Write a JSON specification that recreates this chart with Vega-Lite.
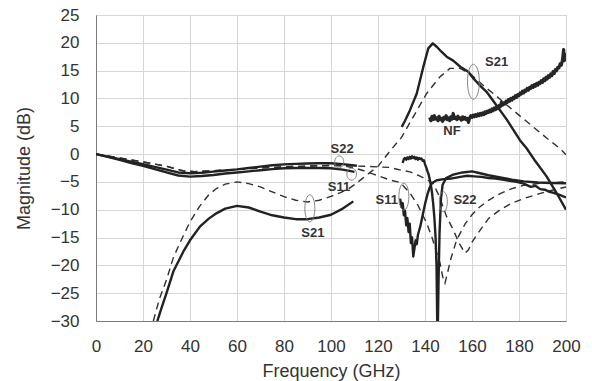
{
  "$schema": "https://vega.github.io/schema/vega-lite/v6.json",
  "width": 470,
  "height": 306,
  "autosize": {"type": "none"},
  "padding": {"left": 96, "top": 15, "right": 26, "bottom": 60},
  "background": "white",
  "config": {
    "view": {"stroke": "#8a8a8a", "strokeWidth": 1},
    "font": "Liberation Sans",
    "axis": {
      "labelFont": "Liberation Sans", "titleFont": "Liberation Sans",
      "labelFontSize": 17, "titleFontSize": 18, "labelColor": "#333", "titleColor": "#333",
      "titleFontWeight": "normal", "gridColor": "#d6d6d6", "gridWidth": 1,
      "domainColor": "#7a7a7a", "ticks": false, "labelOverlap": false, "labelFlush": false
    }
  },
  "datasets": {
    "curves": [
      {"s": "S22m_lo", "f": 0, "m": 0}, {"s": "S22m_lo", "f": 5, "m": -0.45}, {"s": "S22m_lo", "f": 10, "m": -0.9}, {"s": "S22m_lo", "f": 15, "m": -1.35}, {"s": "S22m_lo", "f": 20, "m": -1.8}, {"s": "S22m_lo", "f": 25, "m": -2.3}, {"s": "S22m_lo", "f": 30, "m": -2.8}, {"s": "S22m_lo", "f": 35, "m": -3.3}, {"s": "S22m_lo", "f": 40, "m": -3.45}, {"s": "S22m_lo", "f": 45, "m": -3.35}, {"s": "S22m_lo", "f": 50, "m": -3.15}, {"s": "S22m_lo", "f": 55, "m": -2.95}, {"s": "S22m_lo", "f": 60, "m": -2.75}, {"s": "S22m_lo", "f": 65, "m": -2.5}, {"s": "S22m_lo", "f": 70, "m": -2.25}, {"s": "S22m_lo", "f": 75, "m": -2.0}, {"s": "S22m_lo", "f": 80, "m": -1.85}, {"s": "S22m_lo", "f": 85, "m": -1.75}, {"s": "S22m_lo", "f": 90, "m": -1.7}, {"s": "S22m_lo", "f": 95, "m": -1.65}, {"s": "S22m_lo", "f": 100, "m": -1.65}, {"s": "S22m_lo", "f": 105, "m": -1.8}, {"s": "S22m_lo", "f": 111, "m": -2.1},
      {"s": "S11m_lo", "f": 0, "m": 0}, {"s": "S11m_lo", "f": 5, "m": -0.5}, {"s": "S11m_lo", "f": 10, "m": -1.05}, {"s": "S11m_lo", "f": 15, "m": -1.6}, {"s": "S11m_lo", "f": 20, "m": -2.1}, {"s": "S11m_lo", "f": 25, "m": -2.7}, {"s": "S11m_lo", "f": 30, "m": -3.3}, {"s": "S11m_lo", "f": 35, "m": -3.85}, {"s": "S11m_lo", "f": 40, "m": -4.05}, {"s": "S11m_lo", "f": 45, "m": -3.95}, {"s": "S11m_lo", "f": 50, "m": -3.75}, {"s": "S11m_lo", "f": 55, "m": -3.5}, {"s": "S11m_lo", "f": 60, "m": -3.3}, {"s": "S11m_lo", "f": 65, "m": -3.1}, {"s": "S11m_lo", "f": 70, "m": -2.9}, {"s": "S11m_lo", "f": 75, "m": -2.7}, {"s": "S11m_lo", "f": 80, "m": -2.55}, {"s": "S11m_lo", "f": 85, "m": -2.5}, {"s": "S11m_lo", "f": 90, "m": -2.5}, {"s": "S11m_lo", "f": 95, "m": -2.5}, {"s": "S11m_lo", "f": 100, "m": -2.55}, {"s": "S11m_lo", "f": 105, "m": -2.8}, {"s": "S11m_lo", "f": 110, "m": -3.2},
      {"s": "S21m_lo", "f": 26.1, "m": -30}, {"s": "S21m_lo", "f": 28, "m": -27.5}, {"s": "S21m_lo", "f": 30, "m": -25}, {"s": "S21m_lo", "f": 33, "m": -21}, {"s": "S21m_lo", "f": 37.2, "m": -17.5}, {"s": "S21m_lo", "f": 40, "m": -15.5}, {"s": "S21m_lo", "f": 44.3, "m": -13}, {"s": "S21m_lo", "f": 48, "m": -11.6}, {"s": "S21m_lo", "f": 51.4, "m": -10.6}, {"s": "S21m_lo", "f": 55, "m": -9.8}, {"s": "S21m_lo", "f": 60, "m": -9.3}, {"s": "S21m_lo", "f": 65, "m": -9.6}, {"s": "S21m_lo", "f": 70, "m": -10.35}, {"s": "S21m_lo", "f": 75, "m": -11}, {"s": "S21m_lo", "f": 80, "m": -11.4}, {"s": "S21m_lo", "f": 85, "m": -11.7}, {"s": "S21m_lo", "f": 90, "m": -11.7}, {"s": "S21m_lo", "f": 95, "m": -11.4}, {"s": "S21m_lo", "f": 100, "m": -10.9}, {"s": "S21m_lo", "f": 105, "m": -9.8}, {"s": "S21m_lo", "f": 109.5, "m": -8.5},
      {"s": "S21m_hi", "f": 130.1, "m": 4.9}, {"s": "S21m_hi", "f": 131.5, "m": 6.0}, {"s": "S21m_hi", "f": 133.6, "m": 7.9}, {"s": "S21m_hi", "f": 136.5, "m": 10.9}, {"s": "S21m_hi", "f": 139.3, "m": 15.7}, {"s": "S21m_hi", "f": 141.4, "m": 19}, {"s": "S21m_hi", "f": 143.3, "m": 19.9}, {"s": "S21m_hi", "f": 145, "m": 19.3}, {"s": "S21m_hi", "f": 147, "m": 18.4}, {"s": "S21m_hi", "f": 149.2, "m": 17.5}, {"s": "S21m_hi", "f": 152, "m": 16.8}, {"s": "S21m_hi", "f": 155, "m": 15.7}, {"s": "S21m_hi", "f": 158.4, "m": 14.8}, {"s": "S21m_hi", "f": 160.6, "m": 13.6}, {"s": "S21m_hi", "f": 163, "m": 12.5}, {"s": "S21m_hi", "f": 166.2, "m": 11.2}, {"s": "S21m_hi", "f": 170, "m": 9.0}, {"s": "S21m_hi", "f": 174.8, "m": 6.2}, {"s": "S21m_hi", "f": 180.4, "m": 2.5}, {"s": "S21m_hi", "f": 183.3, "m": 1.0}, {"s": "S21m_hi", "f": 187, "m": -1.3}, {"s": "S21m_hi", "f": 191.8, "m": -4.05}, {"s": "S21m_hi", "f": 196, "m": -7}, {"s": "S21m_hi", "f": 200, "m": -10},
      {"s": "S11m_hi", "f": 129.4, "m": -8}, {"s": "S11m_hi", "f": 130, "m": -9.5}, {"s": "S11m_hi", "f": 130.5, "m": -8.8}, {"s": "S11m_hi", "f": 131, "m": -11}, {"s": "S11m_hi", "f": 131.5, "m": -10.2}, {"s": "S11m_hi", "f": 132, "m": -12.8}, {"s": "S11m_hi", "f": 132.5, "m": -11.5}, {"s": "S11m_hi", "f": 133, "m": -14}, {"s": "S11m_hi", "f": 133.5, "m": -12.5}, {"s": "S11m_hi", "f": 134, "m": -16}, {"s": "S11m_hi", "f": 134.5, "m": -15}, {"s": "S11m_hi", "f": 135, "m": -18.4}, {"s": "S11m_hi", "f": 135.5, "m": -17}, {"s": "S11m_hi", "f": 136, "m": -15.5}, {"s": "S11m_hi", "f": 136.5, "m": -16.2}, {"s": "S11m_hi", "f": 137, "m": -14.5}, {"s": "S11m_hi", "f": 138, "m": -13}, {"s": "S11m_hi", "f": 139, "m": -11}, {"s": "S11m_hi", "f": 140, "m": -9}, {"s": "S11m_hi", "f": 141, "m": -7.3}, {"s": "S11m_hi", "f": 142, "m": -6}, {"s": "S11m_hi", "f": 143, "m": -5.2}, {"s": "S11m_hi", "f": 145, "m": -4.7}, {"s": "S11m_hi", "f": 148, "m": -4.5}, {"s": "S11m_hi", "f": 151, "m": -4.4}, {"s": "S11m_hi", "f": 155, "m": -4.1}, {"s": "S11m_hi", "f": 158, "m": -3.9}, {"s": "S11m_hi", "f": 161, "m": -4.0}, {"s": "S11m_hi", "f": 164, "m": -4.1}, {"s": "S11m_hi", "f": 167, "m": -4.3}, {"s": "S11m_hi", "f": 170, "m": -4.4}, {"s": "S11m_hi", "f": 173, "m": -4.6}, {"s": "S11m_hi", "f": 176, "m": -4.8}, {"s": "S11m_hi", "f": 179, "m": -5.0}, {"s": "S11m_hi", "f": 182, "m": -5.3}, {"s": "S11m_hi", "f": 185, "m": -5.9}, {"s": "S11m_hi", "f": 187, "m": -5.7}, {"s": "S11m_hi", "f": 189, "m": -6.3}, {"s": "S11m_hi", "f": 191, "m": -6.4}, {"s": "S11m_hi", "f": 193, "m": -6.8}, {"s": "S11m_hi", "f": 195, "m": -7.0}, {"s": "S11m_hi", "f": 197, "m": -7.3}, {"s": "S11m_hi", "f": 200, "m": -7.8},
      {"s": "S22m_hi", "f": 130.5, "m": -1.6}, {"s": "S22m_hi", "f": 131, "m": -0.9}, {"s": "S22m_hi", "f": 131.5, "m": -0.7}, {"s": "S22m_hi", "f": 132, "m": -1.0}, {"s": "S22m_hi", "f": 132.5, "m": -0.6}, {"s": "S22m_hi", "f": 133, "m": -0.9}, {"s": "S22m_hi", "f": 133.5, "m": -0.5}, {"s": "S22m_hi", "f": 134, "m": -0.8}, {"s": "S22m_hi", "f": 134.5, "m": -0.4}, {"s": "S22m_hi", "f": 135, "m": -0.7}, {"s": "S22m_hi", "f": 135.5, "m": -0.5}, {"s": "S22m_hi", "f": 136, "m": -0.9}, {"s": "S22m_hi", "f": 136.5, "m": -0.6}, {"s": "S22m_hi", "f": 137, "m": -1.0}, {"s": "S22m_hi", "f": 137.5, "m": -0.7}, {"s": "S22m_hi", "f": 138, "m": -0.9}, {"s": "S22m_hi", "f": 138.5, "m": -0.8}, {"s": "S22m_hi", "f": 139, "m": -1.2}, {"s": "S22m_hi", "f": 139.5, "m": -1.1}, {"s": "S22m_hi", "f": 140, "m": -1.8}, {"s": "S22m_hi", "f": 140.5, "m": -2.4}, {"s": "S22m_hi", "f": 141, "m": -3.0}, {"s": "S22m_hi", "f": 141.5, "m": -3.6}, {"s": "S22m_hi", "f": 142, "m": -4.5}, {"s": "S22m_hi", "f": 142.5, "m": -5.6}, {"s": "S22m_hi", "f": 143, "m": -7}, {"s": "S22m_hi", "f": 143.5, "m": -9}, {"s": "S22m_hi", "f": 144, "m": -11.5}, {"s": "S22m_hi", "f": 144.5, "m": -15}, {"s": "S22m_hi", "f": 144.9, "m": -20}, {"s": "S22m_hi", "f": 145.2, "m": -30}, {"s": "S22m_hi", "f": 145.5, "m": -30}, {"s": "S22m_hi", "f": 145.8, "m": -22}, {"s": "S22m_hi", "f": 146.2, "m": -14}, {"s": "S22m_hi", "f": 146.8, "m": -8}, {"s": "S22m_hi", "f": 147.5, "m": -5.5}, {"s": "S22m_hi", "f": 149, "m": -4.3}, {"s": "S22m_hi", "f": 152, "m": -3.7}, {"s": "S22m_hi", "f": 156, "m": -3.3}, {"s": "S22m_hi", "f": 160, "m": -3.1}, {"s": "S22m_hi", "f": 163, "m": -3.4}, {"s": "S22m_hi", "f": 167, "m": -3.8}, {"s": "S22m_hi", "f": 172, "m": -4.2}, {"s": "S22m_hi", "f": 177, "m": -4.6}, {"s": "S22m_hi", "f": 182, "m": -4.9}, {"s": "S22m_hi", "f": 188, "m": -5.1}, {"s": "S22m_hi", "f": 194, "m": -5.2}, {"s": "S22m_hi", "f": 200, "m": -5.25},
      {"s": "S21s", "f": 24.4, "m": -30}, {"s": "S21s", "f": 27, "m": -26}, {"s": "S21s", "f": 30, "m": -22.6}, {"s": "S21s", "f": 33, "m": -18.5}, {"s": "S21s", "f": 37, "m": -14.8}, {"s": "S21s", "f": 40, "m": -12.2}, {"s": "S21s", "f": 44, "m": -9.45}, {"s": "S21s", "f": 48, "m": -7.3}, {"s": "S21s", "f": 51.4, "m": -6.15}, {"s": "S21s", "f": 55, "m": -5.4}, {"s": "S21s", "f": 60, "m": -5}, {"s": "S21s", "f": 65, "m": -5.3}, {"s": "S21s", "f": 70, "m": -5.9}, {"s": "S21s", "f": 75, "m": -6.8}, {"s": "S21s", "f": 80, "m": -7.65}, {"s": "S21s", "f": 85, "m": -8.3}, {"s": "S21s", "f": 90, "m": -8.6}, {"s": "S21s", "f": 95, "m": -8.3}, {"s": "S21s", "f": 100, "m": -7.6}, {"s": "S21s", "f": 103, "m": -7.1}, {"s": "S21s", "f": 106.7, "m": -6.45}, {"s": "S21s", "f": 110, "m": -5.5}, {"s": "S21s", "f": 113, "m": -4.5}, {"s": "S21s", "f": 116, "m": -3.5}, {"s": "S21s", "f": 120, "m": -2.2}, {"s": "S21s", "f": 125, "m": 0.5}, {"s": "S21s", "f": 130, "m": 3.0}, {"s": "S21s", "f": 135, "m": 6.7}, {"s": "S21s", "f": 140.7, "m": 10.9}, {"s": "S21s", "f": 146.4, "m": 13.9}, {"s": "S21s", "f": 150.6, "m": 15.4}, {"s": "S21s", "f": 154.9, "m": 15.4}, {"s": "S21s", "f": 159.1, "m": 14.5}, {"s": "S21s", "f": 162, "m": 13.4}, {"s": "S21s", "f": 166, "m": 11.9}, {"s": "S21s", "f": 170.5, "m": 10.4}, {"s": "S21s", "f": 174, "m": 9.1}, {"s": "S21s", "f": 180, "m": 7.0}, {"s": "S21s", "f": 186, "m": 4.9}, {"s": "S21s", "f": 192, "m": 2.8}, {"s": "S21s", "f": 197.4, "m": 1.0}, {"s": "S21s", "f": 200, "m": -0.1},
      {"s": "S11s", "f": 0, "m": 0}, {"s": "S11s", "f": 10, "m": -0.7}, {"s": "S11s", "f": 20, "m": -1.4}, {"s": "S11s", "f": 30, "m": -2.2}, {"s": "S11s", "f": 37, "m": -3.0}, {"s": "S11s", "f": 42, "m": -3.15}, {"s": "S11s", "f": 50, "m": -3.0}, {"s": "S11s", "f": 60, "m": -2.75}, {"s": "S11s", "f": 70, "m": -2.5}, {"s": "S11s", "f": 80, "m": -2.3}, {"s": "S11s", "f": 90, "m": -2.15}, {"s": "S11s", "f": 100, "m": -2.05}, {"s": "S11s", "f": 105, "m": -2.1}, {"s": "S11s", "f": 110, "m": -2.5}, {"s": "S11s", "f": 114, "m": -3.0}, {"s": "S11s", "f": 118, "m": -3.6}, {"s": "S11s", "f": 122, "m": -4.2}, {"s": "S11s", "f": 125, "m": -4.65}, {"s": "S11s", "f": 129.4, "m": -5.1}, {"s": "S11s", "f": 133.6, "m": -7}, {"s": "S11s", "f": 137, "m": -9.2}, {"s": "S11s", "f": 140.7, "m": -12.4}, {"s": "S11s", "f": 143, "m": -15}, {"s": "S11s", "f": 145, "m": -17.8}, {"s": "S11s", "f": 146.4, "m": -19.6}, {"s": "S11s", "f": 147.5, "m": -22}, {"s": "S11s", "f": 148.5, "m": -23.2}, {"s": "S11s", "f": 149.5, "m": -21.5}, {"s": "S11s", "f": 151, "m": -18.8}, {"s": "S11s", "f": 153.5, "m": -15.4}, {"s": "S11s", "f": 157, "m": -12.6}, {"s": "S11s", "f": 160, "m": -10.9}, {"s": "S11s", "f": 163, "m": -9.6}, {"s": "S11s", "f": 167, "m": -8.3}, {"s": "S11s", "f": 172, "m": -7.1}, {"s": "S11s", "f": 177, "m": -6.2}, {"s": "S11s", "f": 182, "m": -5.6}, {"s": "S11s", "f": 190, "m": -5.2}, {"s": "S11s", "f": 200, "m": -5.0},
      {"s": "S22s", "f": 0, "m": 0}, {"s": "S22s", "f": 10, "m": -0.7}, {"s": "S22s", "f": 20, "m": -1.4}, {"s": "S22s", "f": 30, "m": -2.2}, {"s": "S22s", "f": 37, "m": -3.0}, {"s": "S22s", "f": 42, "m": -3.15}, {"s": "S22s", "f": 50, "m": -3.0}, {"s": "S22s", "f": 60, "m": -2.75}, {"s": "S22s", "f": 70, "m": -2.5}, {"s": "S22s", "f": 80, "m": -2.3}, {"s": "S22s", "f": 90, "m": -2.15}, {"s": "S22s", "f": 100, "m": -2.05}, {"s": "S22s", "f": 105, "m": -2.05}, {"s": "S22s", "f": 110, "m": -2.15}, {"s": "S22s", "f": 115, "m": -2.2}, {"s": "S22s", "f": 120, "m": -2.3}, {"s": "S22s", "f": 125, "m": -2.4}, {"s": "S22s", "f": 130, "m": -2.9}, {"s": "S22s", "f": 133.6, "m": -3.2}, {"s": "S22s", "f": 137, "m": -3.8}, {"s": "S22s", "f": 140, "m": -4.4}, {"s": "S22s", "f": 143.5, "m": -5.3}, {"s": "S22s", "f": 146, "m": -7.5}, {"s": "S22s", "f": 149.2, "m": -11.25}, {"s": "S22s", "f": 152, "m": -13.6}, {"s": "S22s", "f": 154.5, "m": -16}, {"s": "S22s", "f": 157, "m": -17.8}, {"s": "S22s", "f": 158.5, "m": -17.2}, {"s": "S22s", "f": 160, "m": -15.8}, {"s": "S22s", "f": 163.4, "m": -13.7}, {"s": "S22s", "f": 167, "m": -11.6}, {"s": "S22s", "f": 172, "m": -10}, {"s": "S22s", "f": 177, "m": -8.8}, {"s": "S22s", "f": 182, "m": -8}, {"s": "S22s", "f": 188, "m": -7.2}, {"s": "S22s", "f": 194, "m": -6.5}, {"s": "S22s", "f": 200, "m": -5.9},
      {"s": "NF", "f": 142, "m": 6.6}, {"s": "NF", "f": 142.5, "m": 6.0}, {"s": "NF", "f": 143, "m": 6.8}, {"s": "NF", "f": 143.5, "m": 6.2}, {"s": "NF", "f": 144, "m": 6.9}, {"s": "NF", "f": 144.5, "m": 6.3}, {"s": "NF", "f": 145, "m": 6.5}, {"s": "NF", "f": 145.5, "m": 6.0}, {"s": "NF", "f": 146, "m": 6.8}, {"s": "NF", "f": 146.5, "m": 6.2}, {"s": "NF", "f": 147, "m": 6.4}, {"s": "NF", "f": 147.5, "m": 5.9}, {"s": "NF", "f": 148, "m": 6.6}, {"s": "NF", "f": 148.5, "m": 6.3}, {"s": "NF", "f": 149, "m": 6.9}, {"s": "NF", "f": 149.5, "m": 6.2}, {"s": "NF", "f": 150, "m": 6.5}, {"s": "NF", "f": 150.5, "m": 6.0}, {"s": "NF", "f": 151, "m": 6.7}, {"s": "NF", "f": 151.5, "m": 6.3}, {"s": "NF", "f": 152, "m": 7.3}, {"s": "NF", "f": 152.5, "m": 6.4}, {"s": "NF", "f": 153, "m": 6.6}, {"s": "NF", "f": 153.5, "m": 6.2}, {"s": "NF", "f": 154, "m": 6.8}, {"s": "NF", "f": 154.5, "m": 6.4}, {"s": "NF", "f": 155, "m": 6.5}, {"s": "NF", "f": 155.5, "m": 6.1}, {"s": "NF", "f": 156, "m": 6.7}, {"s": "NF", "f": 156.5, "m": 6.3}, {"s": "NF", "f": 157, "m": 6.6}, {"s": "NF", "f": 157.5, "m": 6.2}, {"s": "NF", "f": 158, "m": 6.4}, {"s": "NF", "f": 158.5, "m": 5.7}, {"s": "NF", "f": 159, "m": 6.5}, {"s": "NF", "f": 159.5, "m": 6.9}, {"s": "NF", "f": 160, "m": 6.6}, {"s": "NF", "f": 160.5, "m": 7.0}, {"s": "NF", "f": 161, "m": 6.7}, {"s": "NF", "f": 161.5, "m": 7.1}, {"s": "NF", "f": 162, "m": 6.8}, {"s": "NF", "f": 162.5, "m": 7.2}, {"s": "NF", "f": 163, "m": 6.9}, {"s": "NF", "f": 163.5, "m": 7.3}, {"s": "NF", "f": 164, "m": 7.0}, {"s": "NF", "f": 164.5, "m": 7.4}, {"s": "NF", "f": 165, "m": 7.1}, {"s": "NF", "f": 165.5, "m": 7.6}, {"s": "NF", "f": 166, "m": 7.3}, {"s": "NF", "f": 166.5, "m": 7.7}, {"s": "NF", "f": 167, "m": 7.5}, {"s": "NF", "f": 167.5, "m": 7.9}, {"s": "NF", "f": 168, "m": 7.6}, {"s": "NF", "f": 168.5, "m": 8.1}, {"s": "NF", "f": 169, "m": 7.8}, {"s": "NF", "f": 169.5, "m": 8.3}, {"s": "NF", "f": 170, "m": 8.0}, {"s": "NF", "f": 170.5, "m": 8.5}, {"s": "NF", "f": 171, "m": 8.2}, {"s": "NF", "f": 171.5, "m": 8.7}, {"s": "NF", "f": 172, "m": 8.5}, {"s": "NF", "f": 172.5, "m": 9.3}, {"s": "NF", "f": 173, "m": 8.8}, {"s": "NF", "f": 173.5, "m": 9.2}, {"s": "NF", "f": 174, "m": 9.0}, {"s": "NF", "f": 174.5, "m": 9.5}, {"s": "NF", "f": 175, "m": 9.3}, {"s": "NF", "f": 175.5, "m": 9.8}, {"s": "NF", "f": 176, "m": 9.5}, {"s": "NF", "f": 176.5, "m": 10.0}, {"s": "NF", "f": 177, "m": 9.7}, {"s": "NF", "f": 177.5, "m": 10.2}, {"s": "NF", "f": 178, "m": 10.0}, {"s": "NF", "f": 178.5, "m": 10.5}, {"s": "NF", "f": 179, "m": 10.2}, {"s": "NF", "f": 179.5, "m": 10.7}, {"s": "NF", "f": 180, "m": 10.5}, {"s": "NF", "f": 180.5, "m": 11.0}, {"s": "NF", "f": 181, "m": 10.8}, {"s": "NF", "f": 181.5, "m": 11.3}, {"s": "NF", "f": 182, "m": 11.0}, {"s": "NF", "f": 182.5, "m": 11.5}, {"s": "NF", "f": 183, "m": 11.3}, {"s": "NF", "f": 183.5, "m": 11.8}, {"s": "NF", "f": 184, "m": 11.5}, {"s": "NF", "f": 184.5, "m": 12.0}, {"s": "NF", "f": 185, "m": 11.8}, {"s": "NF", "f": 185.5, "m": 12.3}, {"s": "NF", "f": 186, "m": 12.0}, {"s": "NF", "f": 186.5, "m": 12.5}, {"s": "NF", "f": 187, "m": 12.2}, {"s": "NF", "f": 187.5, "m": 12.7}, {"s": "NF", "f": 188, "m": 12.4}, {"s": "NF", "f": 188.5, "m": 12.9}, {"s": "NF", "f": 189, "m": 12.7}, {"s": "NF", "f": 189.5, "m": 13.2}, {"s": "NF", "f": 190, "m": 12.9}, {"s": "NF", "f": 190.5, "m": 13.5}, {"s": "NF", "f": 191, "m": 13.2}, {"s": "NF", "f": 191.5, "m": 13.8}, {"s": "NF", "f": 192, "m": 13.5}, {"s": "NF", "f": 192.5, "m": 14.1}, {"s": "NF", "f": 193, "m": 13.8}, {"s": "NF", "f": 193.5, "m": 14.4}, {"s": "NF", "f": 194, "m": 14.1}, {"s": "NF", "f": 194.5, "m": 14.8}, {"s": "NF", "f": 195, "m": 14.5}, {"s": "NF", "f": 195.5, "m": 15.2}, {"s": "NF", "f": 196, "m": 15.0}, {"s": "NF", "f": 196.5, "m": 15.6}, {"s": "NF", "f": 197, "m": 15.5}, {"s": "NF", "f": 197.5, "m": 16.2}, {"s": "NF", "f": 198, "m": 16.0}, {"s": "NF", "f": 198.5, "m": 16.9}, {"s": "NF", "f": 199, "m": 18.8}, {"s": "NF", "f": 199.3, "m": 16.8}, {"s": "NF", "f": 199.6, "m": 17.9}, {"s": "NF", "f": 200, "m": 17.3}
    ],
    "labels": [
      {"t": "S21", "f": 170.5, "m": 16.5},
      {"t": "NF", "f": 151.5, "m": 4.1},
      {"t": "S22", "f": 104.7, "m": 0.9},
      {"t": "S11", "f": 103.4, "m": -5.9},
      {"t": "S21", "f": 92.3, "m": -14.2},
      {"t": "S11", "f": 123.7, "m": -8.2},
      {"t": "S22", "f": 157, "m": -8.2}
    ],
    "ellipses": [
      {"id": "e1", "f": 160.6, "m": 13.0},
      {"id": "e2", "f": 103.5, "m": -1.4},
      {"id": "e3", "f": 108.8, "m": -3.6},
      {"id": "e4", "f": 91, "m": -9.75},
      {"id": "e5", "f": 131, "m": -7.65},
      {"id": "e6", "f": 147.8, "m": -8.55}
    ]
  },
  "encoding": {
    "x": {"field": "f", "type": "quantitative", "scale": {"domain": [0, 200], "nice": false}, "axis": {"values": [0, 20, 40, 60, 80, 100, 120, 140, 160, 180, 200], "tickCount": 30, "title": "Frequency (GHz)", "labelPadding": 17, "titlePadding": 8}},
    "y": {"field": "m", "type": "quantitative", "scale": {"domain": [-30, 25], "nice": false}, "axis": {"values": [-30, -25, -20, -15, -10, -5, 0, 5, 10, 15, 20, 25], "tickCount": 30, "title": "Magnitude (dB)", "labelPadding": 17, "titlePadding": 17}}
  },
  "layer": [
    {
      "data": {"name": "curves"},
      "transform": [{"filter": "indexof(['S11s','S22s','S21s'], datum.s) >= 0"}],
      "mark": {"type": "line", "clip": true, "strokeWidth": 1.4, "strokeDash": [7, 5], "color": "#303030"},
      "encoding": {"detail": {"field": "s"}}
    },
    {
      "data": {"name": "curves"},
      "transform": [{"filter": "indexof(['S11m_lo','S22m_lo','S21m_lo','S11m_hi','S22m_hi','S21m_hi'], datum.s) >= 0"}],
      "mark": {"type": "line", "clip": true, "strokeWidth": 2.4, "color": "#222222", "strokeJoin": "round"},
      "encoding": {"detail": {"field": "s"}}
    },
    {
      "data": {"name": "curves"},
      "transform": [{"filter": "datum.s === 'NF'"}],
      "mark": {"type": "line", "clip": true, "strokeWidth": 3.2, "color": "#262626", "strokeJoin": "round"},
      "encoding": {}
    },
    {
      "data": {"name": "ellipses"},
      "mark": {"type": "point", "filled": false, "stroke": "#777777", "strokeWidth": 0.9, "opacity": 1},
      "encoding": {
        "shape": {"field": "id", "type": "nominal", "legend": null, "scale": {"domain": ["e1", "e2", "e3", "e4", "e5", "e6"], "range": [
          "M0,-1A0.34,1,0,1,1,0,1A0.34,1,0,1,1,0,-1Z",
          "M0,-1A0.75,1,0,1,1,0,1A0.75,1,0,1,1,0,-1Z",
          "M0,-1A0.8,1,0,1,1,0,1A0.8,1,0,1,1,0,-1Z",
          "M0,-1A0.37,1,0,1,1,0,1A0.37,1,0,1,1,0,-1Z",
          "M0,-1A0.37,1,0,1,1,0,1A0.37,1,0,1,1,0,-1Z",
          "M0,-1A0.4,1,0,1,1,0,1A0.4,1,0,1,1,0,-1Z"
        ]}},
        "size": {"field": "id", "type": "ordinal", "legend": null, "scale": {"type": "ordinal", "domain": ["e1", "e2", "e3", "e4", "e5", "e6"], "range": [1225, 144, 144, 729, 729, 400]}}
      }
    },
    {
      "data": {"name": "labels"},
      "mark": {"type": "text", "font": "Liberation Sans", "fontSize": 13, "fontWeight": "bold", "color": "#333333"},
      "encoding": {"text": {"field": "t"}}
    }
  ]
}
